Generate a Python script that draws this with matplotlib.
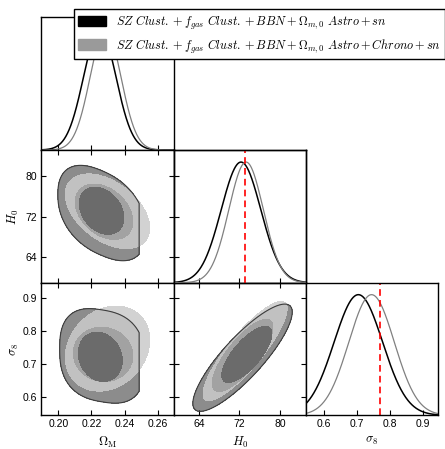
import numpy as np
import matplotlib
matplotlib.use('Agg')
import matplotlib.pyplot as plt
from matplotlib.patches import Patch

plt.rcParams['font.family'] = ['Liberation Sans', 'DejaVu Sans']
plt.rcParams['mathtext.fontset'] = 'cm'

# osiu ribos
om_lim = (0.1897, 0.2696)
h0_lim = (59.0, 85.1)
s8_lim = (0.546, 0.947)

om_ticks = [0.20, 0.22, 0.24, 0.26]
om_ticklabels = ['0.20', '0.22', '0.24', '0.26']
h0_ticks = [64, 72, 80]
h0_ticklabels = ['64', '72', '80']
s8_ticks = [0.6, 0.7, 0.8, 0.9]
s8_ticklabels = ['0.6', '0.7', '0.8', '0.9']

# 1D posteriors (mean, sigma): [rinkinys 1, rinkinys 2]
om_1d_mean = [0.2250, 0.2285]
om_1d_sig = [0.0098, 0.0093]
h0_1d_mean = [72.3, 73.3]
h0_1d_sig = [3.9, 3.4]
s8_1d_mean = [0.705, 0.745]
s8_1d_sig = [0.0735, 0.069]

h0_ref = 73.0
s8_ref = 0.77

# 2D sritys: [cx, cy, half-x, half-y, rho, shape exponent]
om_h0_d1_outer = [0.2262, 72.7, 0.0265, 9.1, -0.40, 2.3]
om_h0_d1_inner = [0.2261, 73.15, 0.0135, 4.65, -0.30, 2.0]
om_h0_d2_outer = [0.2297, 73.05, 0.0255, 7.35, -0.45, 2.0]
om_h0_d2_inner = [0.2276, 72.95, 0.0174, 5.45, -0.35, 2.0]

om_s8_d1_outer = [0.2265, 0.7255, 0.0257, 0.1405, -0.15, 2.6]
om_s8_d1_inner = [0.2253, 0.7225, 0.0133, 0.0745, -0.15, 2.0]
om_s8_d2_outer = [0.2297, 0.7475, 0.0255, 0.1285, 0.20, 2.0]
om_s8_d2_inner = [0.2270, 0.7300, 0.0180, 0.0820, -0.05, 2.0]

h0_s8_d1_outer = [72.6, 0.720, 9.8, 0.162, 0.85, 2.0]
h0_s8_d1_inner = [73.45, 0.730, 4.95, 0.085, 0.74, 2.0]
h0_s8_d2_outer = [73.1, 0.740, 8.3, 0.150, 0.86, 2.0]
h0_s8_d2_inner = [72.6, 0.727, 6.0, 0.109, 0.78, 2.0]

om_cut_d1 = 0.2488  # D1 isorine riba desineje

labels = [r'$SZ\ Clust.+f_{gas}\ Clust.+BBN+\Omega_{m,0}\ Astro+sn$',
          r'$SZ\ Clust.+f_{gas}\ Clust.+BBN+\Omega_{m,0}\ Astro+Chrono+sn$']

c_d1_outer = '#8c8c8c'
c_d1_inner = '#6b6b6b'
c_d2_outer = '#cbcbcb'
c_d2_inner = '#a2a2a2'


def region_q(X, Y, r):
    cx, cy, hx, hy, rho, p = r
    u = (X - cx) / hx
    v = (Y - cy) / hy
    w = (v - rho * u) / np.sqrt(1 - rho ** 2)
    return np.abs(u) ** p + np.abs(w) ** p


def draw_panel(ax, xlim, ylim, d1o, d1i, d2o, d2i, cut=None):
    x = np.linspace(xlim[0], xlim[1], 500)
    y = np.linspace(ylim[0], ylim[1], 500)
    X, Y = np.meshgrid(x, y)
    q1o = region_q(X, Y, d1o)
    if cut is not None:
        q1o = np.where(X > cut, 10.0, q1o)
    ax.contourf(X, Y, q1o, levels=[-1, 1], colors=[c_d1_outer])
    ax.contourf(X, Y, region_q(X, Y, d2o), levels=[-1, 1], colors=[c_d2_outer], alpha=0.85)
    ax.contourf(X, Y, region_q(X, Y, d2i), levels=[-1, 1], colors=[c_d2_inner])
    ax.contourf(X, Y, region_q(X, Y, d1i), levels=[-1, 1], colors=[c_d1_inner])
    ax.contour(X, Y, q1o, levels=[1], colors=['#3c3c3c'], linewidths=0.8)
    ax.set_xlim(xlim)
    ax.set_ylim(ylim)


def draw_1d(ax, lim, means, sigs):
    x = np.linspace(lim[0], lim[1], 400)
    ax.plot(x, np.exp(-0.5 * ((x - means[0]) / sigs[0]) ** 2), color='black', lw=1.1)
    ax.plot(x, np.exp(-0.5 * ((x - means[1]) / sigs[1]) ** 2), color='#808080', lw=0.9)
    ax.set_xlim(lim)
    ax.set_ylim(0, 1.1)


fig = plt.figure(figsize=(4.45, 4.49), dpi=100)
W, H = 445.0, 449.0
x0 = [41.3, 173.6, 305.9]
y0 = [17.3, 150.0, 282.6]
aw, ah = 132.3, 132.7


def make_ax(col, row):
    return fig.add_axes([x0[col] / W, 1 - (y0[row] + ah) / H, aw / W, ah / H])


ax11 = make_ax(0, 0)
ax21 = make_ax(0, 1)
ax22 = make_ax(1, 1)
ax31 = make_ax(0, 2)
ax32 = make_ax(1, 2)
ax33 = make_ax(2, 2)

for ax in [ax11, ax21, ax22, ax31, ax32, ax33]:
    for s in ax.spines.values():
        s.set_linewidth(1.0)
    ax.tick_params(direction='in', length=3.5, width=0.8, labelsize=7.5, pad=3)

# istrizaines
draw_1d(ax11, om_lim, om_1d_mean, om_1d_sig)
ax11.set_xticks(om_ticks)
ax11.set_xticklabels([])
ax11.set_yticks([])

ax22.set_xlim(h0_lim)
ax22.set_ylim(h0_lim)
ax22.set_xticks(h0_ticks)
ax22.set_xticklabels([])
ax22.set_yticks(h0_ticks)
ax22.set_yticklabels([])
tw = ax22.twinx()
draw_1d(tw, h0_lim, h0_1d_mean, h0_1d_sig)
tw.set_yticks([])
tw.axvline(h0_ref, color='red', ls=(0, (4, 2.5)), lw=1.2)
for s in tw.spines.values():
    s.set_linewidth(1.0)

draw_1d(ax33, s8_lim, s8_1d_mean, s8_1d_sig)
ax33.axvline(s8_ref, color='red', ls=(0, (4, 2.5)), lw=1.2)
ax33.set_xticks(s8_ticks)
ax33.set_xticklabels(s8_ticklabels)
ax33.set_yticks([])
ax33.set_xlabel(r'$\sigma_8$', fontsize=9)
ax33.xaxis.set_label_coords(0.5, -0.145)

# 2D
draw_panel(ax21, om_lim, h0_lim, om_h0_d1_outer, om_h0_d1_inner, om_h0_d2_outer, om_h0_d2_inner, cut=om_cut_d1)
draw_panel(ax31, om_lim, s8_lim, om_s8_d1_outer, om_s8_d1_inner, om_s8_d2_outer, om_s8_d2_inner, cut=om_cut_d1)
draw_panel(ax32, h0_lim, s8_lim, h0_s8_d1_outer, h0_s8_d1_inner, h0_s8_d2_outer, h0_s8_d2_inner)

for ax in [ax21, ax31, ax32]:
    ax.tick_params(top=True, right=True)

ax21.set_xticks(om_ticks)
ax21.set_xticklabels([])
ax21.set_yticks(h0_ticks)
ax21.set_yticklabels(h0_ticklabels)
ax21.set_ylabel(r'$H_0$', fontsize=9)
ax21.yaxis.set_label_coords(-0.15, 0.5)

ax31.set_xticks(om_ticks)
ax31.set_xticklabels(om_ticklabels)
ax31.set_yticks(s8_ticks)
ax31.set_yticklabels(s8_ticklabels)
ax31.set_xlabel(r'$\Omega_{\rm M}$', fontsize=9)
ax31.xaxis.set_label_coords(0.5, -0.145)
ax31.set_ylabel(r'$\sigma_8$', fontsize=9)
ax31.yaxis.set_label_coords(-0.15, 0.5)

ax32.set_xticks(h0_ticks)
ax32.set_xticklabels(h0_ticklabels)
ax32.set_yticks(s8_ticks)
ax32.set_yticklabels([])
ax32.set_xlabel(r'$H_0$', fontsize=9)
ax32.xaxis.set_label_coords(0.5, -0.145)

handles = [Patch(facecolor='black', edgecolor='black'),
           Patch(facecolor='#9a9a9a', edgecolor='#9a9a9a')]
leg = fig.legend(handles, labels, loc='upper left', bbox_to_anchor=(74 / W, 1 - 9 / H),
                 fontsize=8.8, frameon=True, fancybox=False, edgecolor='black',
                 framealpha=1, handlelength=2.3, handleheight=0.9, borderpad=0.35,
                 labelspacing=0.45, handletextpad=0.8, borderaxespad=0)
leg.get_frame().set_linewidth(1.0)

fig.savefig('out.png', dpi=100)
